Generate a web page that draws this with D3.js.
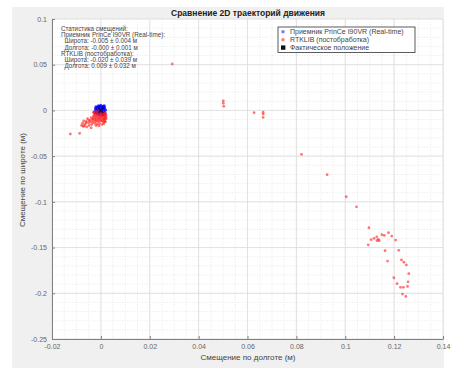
<!DOCTYPE html>
<html>
<head>
<meta charset="utf-8">
<script src="https://cdn.jsdelivr.net/npm/d3@7"></script>
<style>
  body { margin: 0; background: #fff; }
  svg { display: block; font-family: "Liberation Sans", Arial, sans-serif; }
</style>
</head>
<body>
<svg id="chart" width="459" height="369"></svg>
<script>
// tick values
const xTicks = [-0.02, 0, 0.02, 0.04, 0.06, 0.08, 0.1, 0.12, 0.14];
const yTicks = [0.1, 0.05, 0, -0.05, -0.1, -0.15, -0.2, -0.25];

// Real-time receiver (lon, lat), metres
const rtLon = [-0.002, -0.001, 0.000, 0.001, 0.0015, -0.0022, -0.0015, -0.0005, 0.0005, 0.0012,
  -0.0018, -0.0008, 0.0002, 0.0010, 0.0016, -0.0012, -0.0003, 0.0006, -0.0020, 0.0000,
  -0.0010, 0.0008, 0.0014, -0.0025, 0.0003, -0.0006, 0.0011, -0.0016, 0.0019, -0.0002,
  -0.0014, 0.0004, 0.0013, -0.0021, -0.0007, 0.0009];
const rtLat = [0.004, 0.005, 0.0055, 0.0045, 0.003, 0.002, 0.001, 0.002, 0.003, 0.001,
  -0.001, -0.0005, 0.0005, -0.0008, -0.002, -0.002, -0.0025, -0.003, 0.0005, 0.004,
  0.003, 0.004, 0.005, -0.0015, -0.0015, 0.0045, 0.0025, 0.0035, 0.0005, -0.001,
  -0.0035, -0.004, -0.0038, -0.003, -0.0045, -0.0048];

// RTKLIB post-processing (lon, lat), metres
const rtkLon = [
  // cluster near origin
  -0.003, -0.002, -0.001, 0.000, 0.001, 0.0015, -0.0025, -0.0015, -0.0005, 0.0005,
  0.0012, 0.0018, -0.003, -0.002, -0.001, 0.000, 0.001, 0.0016, -0.0032, -0.0022,
  -0.0012, -0.0002, 0.0008, 0.0015, -0.003, -0.002, -0.001, 0.000, 0.001, -0.0025,
  -0.0015, -0.0005, 0.0005, 0.0012, -0.002, -0.0008,
  -0.0028, -0.0018, -0.0008, 0.0002, 0.0012, 0.0020, -0.0026, -0.0016, -0.0006, 0.0004,
  0.0014, 0.0022, -0.0030, -0.0020, -0.0010, 0.0000, 0.0010, 0.0018, -0.0024, -0.0014,
  -0.0004, 0.0006, 0.0016, -0.0034, -0.0036, -0.0042, -0.0050, -0.0060,
  -0.004, -0.0045, -0.005, -0.0055, -0.006, -0.0065, -0.007, -0.0075, -0.0068, -0.0058,
  -0.0048, -0.0038, -0.0079, -0.0072, -0.004, -0.0125, -0.0087, 0.002, 0.0021, 0.0019,
  // drift towards the east
  0.0292, 0.0501, 0.0501, 0.0503, 0.0627, 0.0664, 0.0664, 0.0664, 0.0821, 0.0926,
  0.1004, 0.1046, 0.1097, 0.1094, 0.1106, 0.1118, 0.1129, 0.1135, 0.1139, 0.1130,
  0.115, 0.116, 0.1177, 0.119, 0.1206, 0.1163, 0.1219, 0.1173, 0.123, 0.124,
  0.125, 0.1199, 0.126, 0.1212, 0.1257, 0.1226, 0.1238, 0.1255, 0.1234, 0.1248];
const rtkLat = [
  -0.002, -0.001, -0.0015, -0.001, -0.002, -0.003, -0.004, -0.0035, -0.004, -0.0045,
  -0.005, -0.006, -0.006, -0.0065, -0.007, -0.0065, -0.0075, -0.0085, -0.009, -0.009,
  -0.0095, -0.009, -0.010, -0.011, -0.0115, -0.012, -0.0125, -0.0115, -0.013, -0.014,
  -0.015, -0.0145, -0.0155, -0.0145, -0.0165, -0.017,
  -0.0025, -0.003, -0.0028, -0.0032, -0.0035, -0.004, -0.0055, -0.0058, -0.0062, -0.0058,
  -0.0065, -0.007, -0.008, -0.0082, -0.0085, -0.008, -0.009, -0.0095, -0.0105, -0.011,
  -0.0108, -0.0112, -0.012, -0.0135, -0.010, -0.0125, -0.0105, -0.0135,
  -0.008, -0.011, -0.0135, -0.009, -0.012, -0.015, -0.0115, -0.014, -0.017, -0.018,
  -0.0165, -0.0155, -0.0165, -0.0175, -0.019, -0.0258, -0.025, -0.0045, -0.009, -0.0125,
  0.0508, 0.0103, 0.0078, 0.0045, -0.0025, -0.002, -0.004, -0.0076, -0.048, -0.0703,
  -0.0944, -0.1054, -0.1283, -0.147, -0.1414, -0.140, -0.1382, -0.141, -0.1425, -0.1425,
  -0.136, -0.1367, -0.1338, -0.1374, -0.1418, -0.1535, -0.153, -0.1648, -0.1635, -0.166,
  -0.169, -0.183, -0.1785, -0.1895, -0.1875, -0.1935, -0.1935, -0.1925, -0.2009, -0.2034];

const truePos = [0, 0];

const legendLabels = ["Приемник PrinCe I90VR (Real-time)", "RTKLIB (постобработка)", "Фактическое положение"];
const statsLines = [
  "Статистика смещений:",
  "Приемник PrinCe I90VR (Real-time):",
  "  Широта: -0.005 ± 0.004 м",
  "  Долгота: -0.000 ± 0.001 м",
  "RTKLIB (постобработка):",
  "  Широта: -0.020 ± 0.039 м",
  "  Долгота: 0.009 ± 0.032 м"
];

const svg = d3.select("svg#chart");
const plot = { left: 52, top: 19, width: 391, height: 320 };

// figure background
svg.append("rect").attr("x", 12).attr("y", 7).attr("width", 432).attr("height", 361).attr("fill", "#f0f0f0");

const xScale = d3.scaleLinear().domain([-0.02, 0.14]).range([plot.left, plot.left + plot.width]);
const yScale = d3.scaleLinear().domain([-0.25, 0.1]).range([plot.top + plot.height, plot.top]);

svg.append("rect").attr("x", plot.left).attr("y", plot.top)
  .attr("width", plot.width).attr("height", plot.height).attr("fill", "#fff");

// minor grid (dotted)
const grid = svg.append("g");
grid.selectAll(".mx").data(d3.range(-0.02, 0.1401, 0.005)).enter().append("line")
  .attr("x1", d => xScale(d)).attr("x2", d => xScale(d))
  .attr("y1", plot.top).attr("y2", plot.top + plot.height)
  .attr("stroke", "#e4e4e4").attr("stroke-width", 0.8).attr("stroke-dasharray", "1,1.5");
grid.selectAll(".my").data(d3.range(-0.25, 0.1001, 0.01)).enter().append("line")
  .attr("y1", d => yScale(d)).attr("y2", d => yScale(d))
  .attr("x1", plot.left).attr("x2", plot.left + plot.width)
  .attr("stroke", "#e4e4e4").attr("stroke-width", 0.8).attr("stroke-dasharray", "1,1.5");
// major grid
grid.selectAll(".gx").data(xTicks).enter().append("line")
  .attr("x1", d => xScale(d)).attr("x2", d => xScale(d))
  .attr("y1", plot.top).attr("y2", plot.top + plot.height)
  .attr("stroke", "#dcdcdc").attr("stroke-width", 0.8);
grid.selectAll(".gy").data(yTicks).enter().append("line")
  .attr("y1", d => yScale(d)).attr("y2", d => yScale(d))
  .attr("x1", plot.left).attr("x2", plot.left + plot.width)
  .attr("stroke", "#dcdcdc").attr("stroke-width", 0.8);

// axes
const fmt = d => d === 0 ? "0" : String(+d.toFixed(2));
const xAxis = svg.append("g")
  .attr("transform", `translate(0,${plot.top + plot.height})`)
  .call(d3.axisBottom(xScale).tickValues(xTicks).tickFormat(fmt).tickSizeInner(-3).tickSizeOuter(0).tickPadding(5));
const yAxis = svg.append("g")
  .attr("transform", `translate(${plot.left},0)`)
  .call(d3.axisLeft(yScale).tickValues(yTicks).tickFormat(fmt).tickSizeInner(-3).tickSizeOuter(0).tickPadding(5));
[xAxis, yAxis].forEach(a => {
  a.select(".domain").attr("stroke", "#808080");
  a.selectAll(".tick line").attr("stroke", "#808080");
  a.selectAll(".tick text").attr("fill", "#666").style("font-size", "7px").style("font-family", "Liberation Sans, Arial, sans-serif");
});

// series
const marks = svg.append("g");
marks.selectAll(".rt").data(d3.zip(rtLon, rtLat)).enter().append("circle")
  .attr("cx", d => xScale(d[0])).attr("cy", d => yScale(d[1])).attr("r", 1.6)
  .attr("fill", "#0000ff").attr("fill-opacity", 0.75);
marks.selectAll(".rtk").data(d3.zip(rtkLon, rtkLat)).enter().append("circle")
  .attr("cx", d => xScale(d[0])).attr("cy", d => yScale(d[1])).attr("r", 1.4)
  .attr("fill", "#ff1a1a").attr("fill-opacity", 0.6);
const tx = xScale(truePos[0]), ty = yScale(truePos[1]);
marks.append("path")
  .attr("d", `M${tx - 2.5},${ty - 2.5}L${tx + 2.5},${ty + 2.5}M${tx - 2.5},${ty + 2.5}L${tx + 2.5},${ty - 2.5}`)
  .attr("stroke", "#000").attr("stroke-width", 1.6).attr("stroke-opacity", 0.6);

// stats text
svg.append("g").selectAll("text").data(statsLines).enter().append("text")
  .attr("x", 61).attr("y", (d, i) => 31 + i * 6.2)
  .attr("xml:space", "preserve")
  .style("white-space", "pre")
  .style("font-size", "6.3px").attr("fill", "#444")
  .text(d => d);

// legend
const lg = svg.append("g");
lg.append("rect").attr("x", 278).attr("y", 27).attr("width", 137).attr("height", 25.5)
  .attr("fill", "#fff").attr("stroke", "#333").attr("stroke-width", 0.8);
const rowY = [31.8, 39.8, 47.6];
lg.append("circle").attr("cx", 283).attr("cy", rowY[0]).attr("r", 1.8).attr("fill", "#7f7fff");
lg.append("circle").attr("cx", 283).attr("cy", rowY[1]).attr("r", 1.8).attr("fill", "#ff7f7f");
lg.append("rect").attr("x", 281).attr("y", rowY[2] - 2.2).attr("width", 4.4).attr("height", 4.4).attr("fill", "#111");
lg.selectAll(".lt").data(legendLabels).enter().append("text")
  .attr("x", 290).attr("y", (d, i) => rowY[i] + 2.4)
  .style("font-size", "7px").attr("fill", "#444").text(d => d);

// title and axis labels
svg.append("text").attr("x", 248).attr("y", 16).attr("text-anchor", "middle")
  .style("font-size", "8.5px").style("font-weight", "bold").attr("fill", "#222")
  .text("Сравнение 2D траекторий движения");
svg.append("text").attr("x", 248).attr("y", 360).attr("text-anchor", "middle")
  .style("font-size", "8px").attr("fill", "#444").text("Смещение по долготе (м)");
svg.append("text").attr("transform", "translate(25,180) rotate(-90)").attr("text-anchor", "middle")
  .style("font-size", "8px").attr("fill", "#444").text("Смещение по широте (м)");
</script>
</body>
</html>
